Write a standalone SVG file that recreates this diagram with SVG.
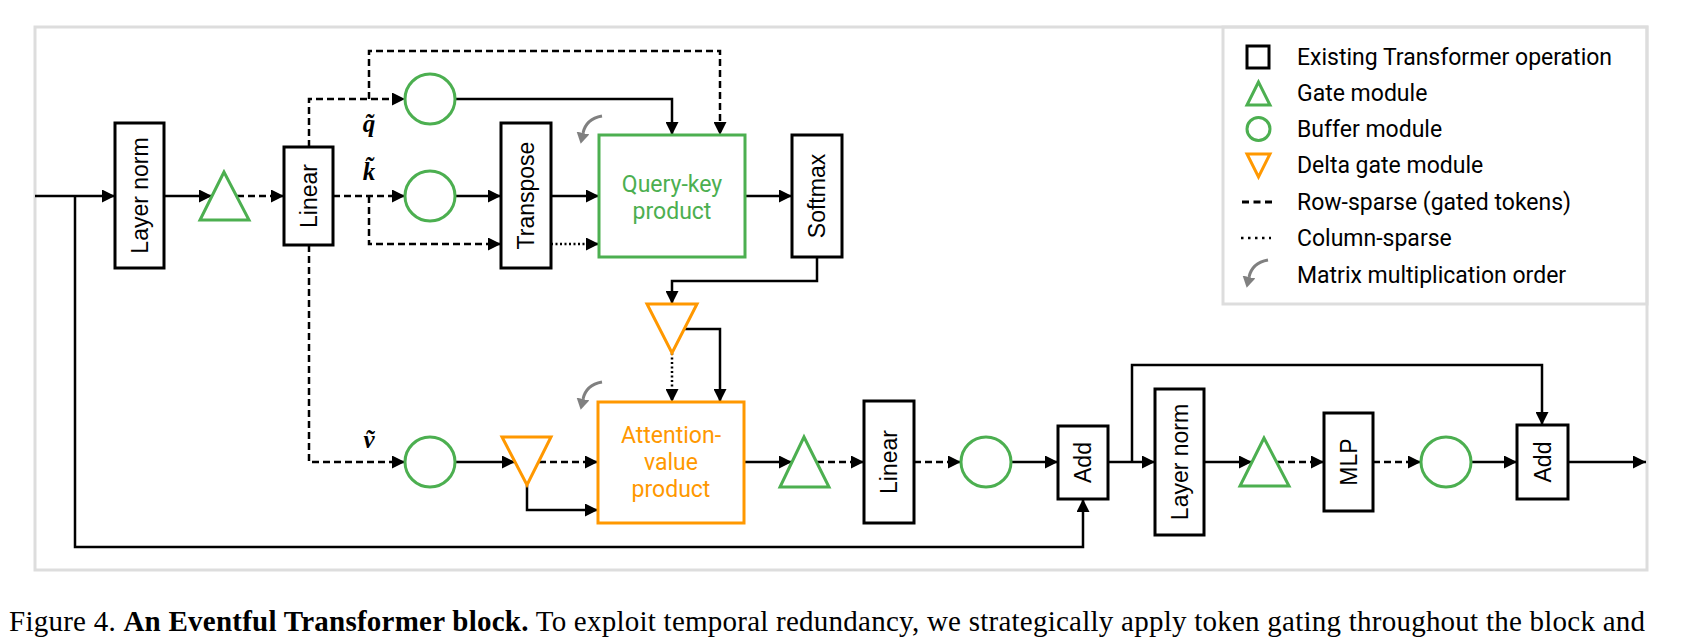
<svg xmlns="http://www.w3.org/2000/svg" width="1692" height="640" viewBox="0 0 1692 640">
<style>
.frame{fill:none;stroke:#dddddd;stroke-width:3}
.op{fill:#fff;stroke:#000;stroke-width:3}
.gbox{fill:#fff;stroke:#4caf50;stroke-width:3}
.obox{fill:#fff;stroke:#ff9800;stroke-width:3}
.gate{fill:#fff;stroke:#4caf50;stroke-width:3;stroke-linejoin:miter}
.delta{fill:#fff;stroke:#ff9800;stroke-width:3;stroke-linejoin:miter}
.buf{fill:#fff;stroke:#4caf50;stroke-width:3}
.c{fill:none;stroke:#000;stroke-width:2.5}
.d{stroke-dasharray:7 4}
.t{stroke-dasharray:2 2.5}
.mm{fill:none;stroke:#808080;stroke-width:3}
.lab{font-family:"Liberation Sans",Arial,sans-serif;font-size:23px;fill:#000;text-anchor:middle}
.rob{font-family:Roboto,"Noto Sans",sans-serif;font-size:23px;text-anchor:middle}
.leg{font-family:Roboto,"Noto Sans",sans-serif;font-size:23px;fill:#000}
.math{font-family:"Liberation Serif","Times New Roman",serif;font-size:25px;font-weight:bold;font-style:italic;fill:#000;text-anchor:middle}
.cap{font-family:"Liberation Serif","Times New Roman",serif;font-size:29px;fill:#000}
</style>
<defs>
<marker id="ah" viewBox="0 0 13 13" markerWidth="13" markerHeight="13" refX="13" refY="6.5" orient="auto" markerUnits="userSpaceOnUse"><path d="M0,0 L13,6.5 L0,13 z" fill="#000"/></marker>
<marker id="gh" viewBox="0 0 11 13" markerWidth="11" markerHeight="13" refX="0" refY="6.5" orient="auto" markerUnits="userSpaceOnUse"><path d="M0,0 L11,6.5 L0,13 z" fill="#808080"/></marker>
<path id="mmo" class="mm" d="M20,0 Q4,3 1,17" marker-end="url(#gh)"/>
</defs>
<rect width="1692" height="640" fill="#fff"/>
<rect id="frame" class="frame" x="35" y="27" width="1612" height="543"/>

<g id="connectors">
<path class="c" d="M35,196 H115" marker-end="url(#ah)"/>
<path class="c" d="M75,196 V547 H1083 V499" marker-end="url(#ah)"/>
<path class="c" d="M164,196 H212" marker-end="url(#ah)"/>
<path class="c d" d="M237,196 H284" marker-end="url(#ah)"/>
<path class="c d" d="M309,147 V99 H405" marker-end="url(#ah)"/>
<path class="c d" d="M369,99 V51 H720 V135" marker-end="url(#ah)"/>
<path class="c" d="M455,99 H672 V135" marker-end="url(#ah)"/>
<path class="c d" d="M333,196 H405" marker-end="url(#ah)"/>
<path class="c d" d="M369,196 V244 H501" marker-end="url(#ah)"/>
<path class="c" d="M455,196 H501" marker-end="url(#ah)"/>
<path class="c" d="M551,196 H599" marker-end="url(#ah)"/>
<path class="c t" d="M551,244 H599" marker-end="url(#ah)"/>
<path class="c" d="M745,196 H792" marker-end="url(#ah)"/>
<path class="c" d="M817,257 V281 H672 V304" marker-end="url(#ah)"/>
<path class="c" d="M684,329 H720 V402" marker-end="url(#ah)"/>
<path class="c t" d="M672,353 V402" marker-end="url(#ah)"/>
<path class="c d" d="M309,245 V462 H405" marker-end="url(#ah)"/>
<path class="c" d="M455,462 H515" marker-end="url(#ah)"/>
<path class="c d" d="M539,462 H598" marker-end="url(#ah)"/>
<path class="c" d="M527,485 V510 H598" marker-end="url(#ah)"/>
<path class="c" d="M744,462 H792" marker-end="url(#ah)"/>
<path class="c d" d="M817,462 H864" marker-end="url(#ah)"/>
<path class="c d" d="M914,462 H961" marker-end="url(#ah)"/>
<path class="c" d="M1011,462 H1058" marker-end="url(#ah)"/>
<path class="c" d="M1108,462 H1155" marker-end="url(#ah)"/>
<path class="c" d="M1132,462 V365 H1542 V425" marker-end="url(#ah)"/>
<path class="c" d="M1204,462 H1252" marker-end="url(#ah)"/>
<path class="c d" d="M1277,462 H1324" marker-end="url(#ah)"/>
<path class="c d" d="M1373,462 H1421" marker-end="url(#ah)"/>
<path class="c" d="M1471,462 H1517" marker-end="url(#ah)"/>
<path class="c" d="M1568,462 H1646" marker-end="url(#ah)"/>
<use href="#mmo" x="582" y="116"/>
<use href="#mmo" x="582" y="382"/>
</g>

<g id="layernorm1"><rect class="op" x="115" y="123" width="49" height="145"/><text class="lab" transform="translate(139.5,195.5) rotate(-90)" dy="0.35em">Layer norm</text></g>
<g id="gate1"><polygon class="gate" points="224,172 200,220 249,220"/></g>
<g id="linear1"><rect class="op" x="284" y="147" width="49" height="98"/><text class="lab" transform="translate(308.5,196) rotate(-90)" dy="0.35em">Linear</text></g>
<g id="bufq"><circle class="buf" cx="430" cy="99" r="25"/></g>
<g id="bufk"><circle class="buf" cx="430" cy="196" r="25"/></g>
<g id="bufv"><circle class="buf" cx="430" cy="462" r="25"/></g>
<text id="labq" class="math" x="369" y="132">q̃</text>
<text id="labk" class="math" x="369" y="180">k̃</text>
<text id="labv" class="math" x="369" y="448">ṽ</text>
<g id="transpose"><rect class="op" x="501" y="123" width="50" height="145"/><text class="lab" transform="translate(526,195.5) rotate(-90)" dy="0.35em">Transpose</text></g>
<g id="qk"><rect class="gbox" x="599" y="135" width="146" height="122"/><text class="rob" x="672" y="192" fill="#4caf50">Query-key</text><text class="rob" x="672" y="219" fill="#4caf50">product</text></g>
<g id="softmax"><rect class="op" x="792" y="135" width="50" height="122"/><text class="lab" transform="translate(817,196) rotate(-90)" dy="0.35em">Softmax</text></g>
<g id="delta1"><polygon class="delta" points="647,304 697,304 672,353"/></g>
<g id="delta2"><polygon class="delta" points="502,437 551,437 527,485"/></g>
<g id="av"><rect class="obox" x="598" y="402" width="146" height="121"/><text class="rob" x="671" y="443" fill="#ff9800">Attention-</text><text class="rob" x="671" y="470" fill="#ff9800">value</text><text class="rob" x="671" y="497" fill="#ff9800">product</text></g>
<g id="gate2"><polygon class="gate" points="804,437 780,487 829,487"/></g>
<g id="linear2"><rect class="op" x="864" y="401" width="50" height="122"/><text class="lab" transform="translate(889,462) rotate(-90)" dy="0.35em">Linear</text></g>
<g id="buf3"><circle class="buf" cx="986" cy="462" r="25"/></g>
<g id="add1"><rect class="op" x="1058" y="426" width="50" height="73"/><text class="lab" transform="translate(1083,462.5) rotate(-90)" dy="0.35em">Add</text></g>
<g id="layernorm2"><rect class="op" x="1155" y="389" width="49" height="146"/><text class="lab" transform="translate(1179.5,462) rotate(-90)" dy="0.35em">Layer norm</text></g>
<g id="gate3"><polygon class="gate" points="1264,438 1240,486 1289,486"/></g>
<g id="mlp"><rect class="op" x="1324" y="413" width="49" height="98"/><text class="lab" transform="translate(1348.5,462) rotate(-90)" dy="0.35em">MLP</text></g>
<g id="buf4"><circle class="buf" cx="1446" cy="462" r="25"/></g>
<g id="add2"><rect class="op" x="1517" y="425" width="51" height="74"/><text class="lab" transform="translate(1542.5,462) rotate(-90)" dy="0.35em">Add</text></g>

<g id="legend">
<rect class="frame" x="1223" y="27" width="424" height="277"/>
<rect x="1247" y="46" width="22" height="22" fill="none" stroke="#000" stroke-width="3"/>
<polygon class="gate" points="1258.5,82 1247,105 1270,105"/>
<circle class="buf" cx="1258.5" cy="129" r="11.5"/>
<polygon class="delta" points="1247,154 1270,154 1258.5,177"/>
<line x1="1242" y1="202" x2="1272" y2="202" stroke="#000" stroke-width="3" stroke-dasharray="7 4.5"/>
<line x1="1241" y1="238" x2="1271" y2="238" stroke="#000" stroke-width="2.5" stroke-dasharray="2.5 4.5"/>
<use href="#mmo" x="1248" y="260"/>
<text class="leg" x="1297" y="65">Existing Transformer operation</text>
<text class="leg" x="1297" y="101">Gate module</text>
<text class="leg" x="1297" y="137">Buffer module</text>
<text class="leg" x="1297" y="173">Delta gate module</text>
<text class="leg" x="1297" y="210">Row-sparse (gated tokens)</text>
<text class="leg" x="1297" y="246">Column-sparse</text>
<text class="leg" x="1297" y="283">Matrix multiplication order</text>
</g>

<text class="cap" x="9" y="631" textLength="1636" lengthAdjust="spacing">Figure 4. <tspan font-weight="bold">An Eventful Transformer block.</tspan> To exploit temporal redundancy, we strategically apply token gating throughout the block and</text>
</svg>
